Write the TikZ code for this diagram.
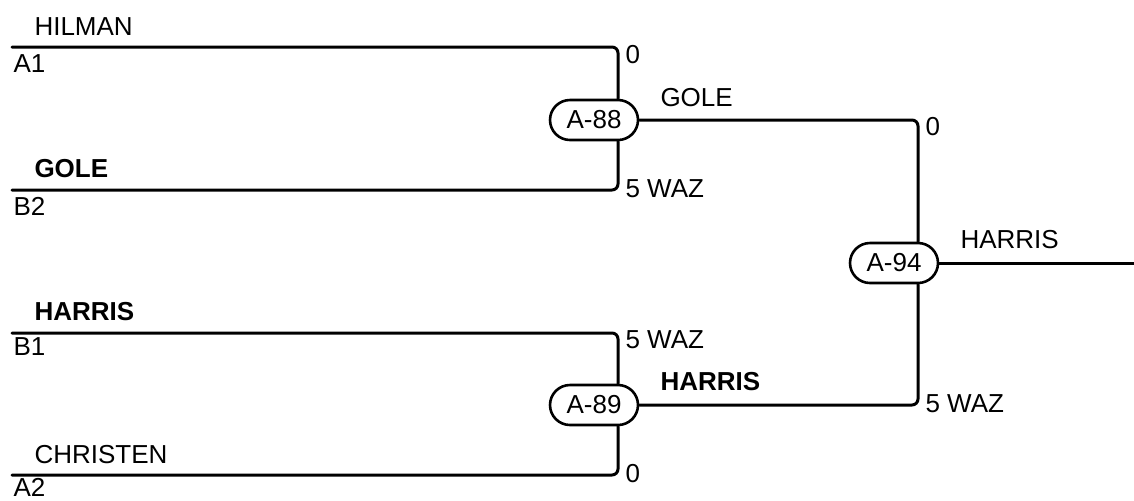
\documentclass[tikz,border=0pt]{standalone}
\usepackage{fontspec}
\setmainfont{Liberation Sans}
\usetikzlibrary{shapes.misc}
\begin{document}
\begin{tikzpicture}[x=0.5pt, y=-0.5pt, line width=1.5pt, line join=round, line cap=round,
  font=\fontsize{13}{15}\selectfont,
  game/.style={rounded rectangle, draw, line width=1.3pt, fill=white, minimum width=44pt, minimum height=20pt, inner sep=0pt},
  lbl/.style={anchor=base west, inner sep=0pt},
  win/.style={lbl, font=\fontsize{13}{15}\selectfont\bfseries},
  wire/.style={rounded corners=3pt}]
	\useasboundingbox (0,0) rectangle (1134,500);
	% games
	\node[game] (g88) at (594,120) {A-88};
	\node[game] (g89) at (594,405) {A-89};
	\node[game] (g94) at (894,263) {A-94};
	% slot ends
	\coordinate (a1) at (12,47);
	\coordinate (b2) at (12,190);
	\coordinate (b1) at (12,333);
	\coordinate (a2) at (12,475);
	\coordinate (out) at (1134,263);
	% wires
	\draw[wire] (a1) -| ([xshift=12pt]g88.north);
	\draw[wire] (b2) -| ([xshift=12pt]g88.south);
	\draw[wire] (b1) -| ([xshift=12pt]g89.north);
	\draw[wire] (a2) -| ([xshift=12pt]g89.south);
	\draw[wire] (g88.east) -| ([xshift=12pt]g94.north);
	\draw[wire] (g89.east) -| ([xshift=12pt]g94.south);
	\draw (g94.east) -- (out);
	% teams and slots
	\node[lbl] (t1) at (33,35) {HILMAN};
	\node[lbl] (s1) at (12,72) {A1};
	\node[win] (t2) at (33,177) {GOLE};
	\node[lbl] (s2) at (12,215) {B2};
	\node[win] (t3) at (33,320) {HARRIS};
	\node[lbl] (s3) at (12,355) {B1};
	\node[lbl] (t4) at (33,463) {CHRISTEN};
	\node[lbl] (s4) at (12,496) {A2};
	% scores
	\node[lbl] (r1) at (624,63) {0};
	\node[lbl] (r2) at (624,197) {5 WAZ};
	\node[lbl] (r3) at (624,348) {5 WAZ};
	\node[lbl] (r4) at (624,482) {0};
	\node[lbl] (r5) at (924,135) {0};
	\node[lbl] (r6) at (924,412) {5 WAZ};
	% winners
	\node[lbl] (w88) at (659,106) {GOLE};
	\node[win] (w89) at (659,390) {HARRIS};
	\node[lbl] (w94) at (959,248) {HARRIS};
\end{tikzpicture}
\end{document}
